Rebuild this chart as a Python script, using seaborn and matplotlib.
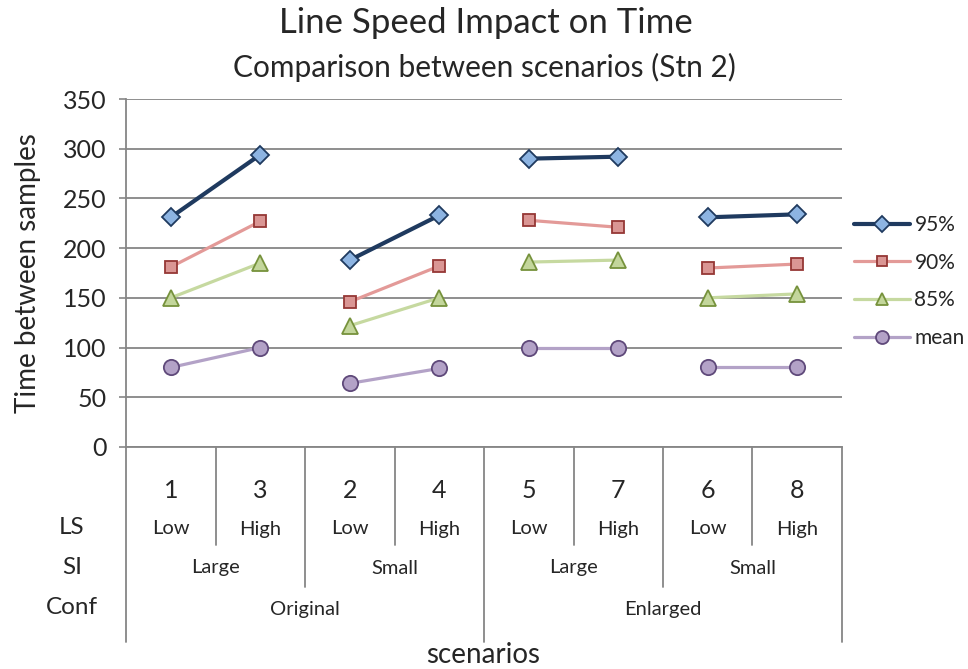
import matplotlib
matplotlib.use("Agg")
import matplotlib.pyplot as plt
import matplotlib.transforms as mtransforms
from matplotlib.lines import Line2D
import numpy as np
import pandas as pd
import seaborn as sns

# Scenario layout (plotted order) and their factor levels
scenarios = ["1", "3", "2", "4", "5", "7", "6", "8"]
line_speed = ["Low", "High", "Low", "High", "Low", "High", "Low", "High"]
size_levels = ["Large", "Small", "Large", "Small"]
conf_levels = ["Original", "Enlarged"]

# Time between samples per scenario
p95 = [231, 294, 188, 233, 290, 292, 231, 234]
p90 = [181, 227, 146, 182, 228, 221, 180, 184]
p85 = [150, 185, 122, 150, 186, 188, 150, 154]
mean = [80, 100, 64, 79, 100, 100, 80, 80]

series_names = ["95%", "90%", "85%", "mean"]
series_values = [p95, p90, p85, mean]

styles = {
    "95%": dict(color="#1F3A5F", marker="D", mfc="#8DB4E2", mec="#1F3A5F", lw=3.0, ms=9),
    "90%": dict(color="#E39A98", marker="s", mfc="#DA9694", mec="#953735", lw=2.3, ms=9),
    "85%": dict(color="#C6D9A0", marker="^", mfc="#C3D69B", mec="#76923C", lw=2.3, ms=11),
    "mean": dict(color="#B3A2C7", marker="o", mfc="#B3A2C7", mec="#5F497A", lw=2.3, ms=11),
}

rows = []
for name, vals in zip(series_names, series_values):
    for i, v in enumerate(vals):
        rows.append(dict(series=name, pos=i, value=v, pair=i // 2))
df = pd.DataFrame(rows)

sns.set_style("white")
plt.rcParams["font.family"] = ["Lato", "DejaVu Sans"]

fig = plt.figure(figsize=(9.68, 6.69), dpi=100)
ax = fig.add_axes([126 / 968, 1 - 447 / 669, 716 / 968, 348 / 669])

handles = []
for name in series_names:
    st = styles[name]
    sub = df[df.series == name]
    sns.lineplot(data=sub, x="pos", y="value", units="pair", estimator=None,
                 color=st["color"], linewidth=st["lw"], marker=st["marker"],
                 markersize=st["ms"], markerfacecolor=st["mfc"],
                 markeredgecolor=st["mec"], markeredgewidth=1.3,
                 legend=False, ax=ax, zorder=3)
    handles.append(Line2D([], [], color=st["color"], lw=st["lw"], marker=st["marker"],
                          ms=st["ms"] * 0.85, mfc=st["mfc"], mec=st["mec"], mew=1.3,
                          label=name))


def fy(px):
    return 1 - px / 669


ax.set_xlim(-0.5, 7.5)
ax.set_ylim(0, 350)
ax.set_yticks(np.arange(0, 351, 50))
ax.set_xticks([])
ax.set_xlabel("")
ax.set_ylabel("Time between samples", fontsize=20, labelpad=16)
ax.tick_params(axis="y", labelsize=18, length=5, width=1.2, color="#868686",
               direction="out", left=True, pad=9)
ax.grid(axis="y", color="#868686", linewidth=1.3)
ax.set_axisbelow(True)
for side in ["top", "right"]:
    ax.spines[side].set_visible(False)
for side in ["left", "bottom"]:
    ax.spines[side].set_color("#868686")
    ax.spines[side].set_linewidth(1.3)

leg = fig.legend(handles=handles, loc="upper left",
                 bbox_to_anchor=(854 / 968, fy(215)), bbox_transform=fig.transFigure,
                 frameon=False, fontsize=15, handlelength=2.7, labelspacing=0.85,
                 handletextpad=0.2, borderpad=0, borderaxespad=0)

# Multi-level category table under the axis
trans = mtransforms.blended_transform_factory(ax.transData, fig.transFigure)

sep_color = "#868686"
for x, bottom in [(-0.5, 642), (0.5, 545), (1.5, 587), (2.5, 545), (3.5, 642),
                  (4.5, 545), (5.5, 587), (6.5, 545), (7.5, 642)]:
    ax.add_line(Line2D([x, x], [fy(447), fy(bottom)], transform=trans,
                       color=sep_color, lw=1.3, clip_on=False))

for i, (sc, ls) in enumerate(zip(scenarios, line_speed)):
    ax.text(i, fy(490), sc, transform=trans, ha="center", va="center", fontsize=18)
    ax.text(i, fy(529), ls, transform=trans, ha="center", va="center", fontsize=14.5)
for j, si in enumerate(size_levels):
    ax.text(2 * j + 0.5, fy(568), si, transform=trans, ha="center", va="center", fontsize=14.5)
for k, cf in enumerate(conf_levels):
    ax.text(4 * k + 1.5, fy(610), cf, transform=trans, ha="center", va="center", fontsize=14.5)

for label, ypx in [("LS", 528), ("SI", 568), ("Conf", 608)]:
    fig.text(72 / 968, fy(ypx), label, ha="center", va="center", fontsize=17.5)

fig.text(483 / 968, fy(655), "scenarios", ha="center", va="center", fontsize=20)
fig.text(486 / 968, fy(23), "Line Speed Impact on Time", ha="center", va="center", fontsize=25)
fig.text(484 / 968, fy(67), "Comparison between scenarios (Stn 2)", ha="center",
         va="center", fontsize=21.5)

fig.savefig("out.png", dpi=100)
